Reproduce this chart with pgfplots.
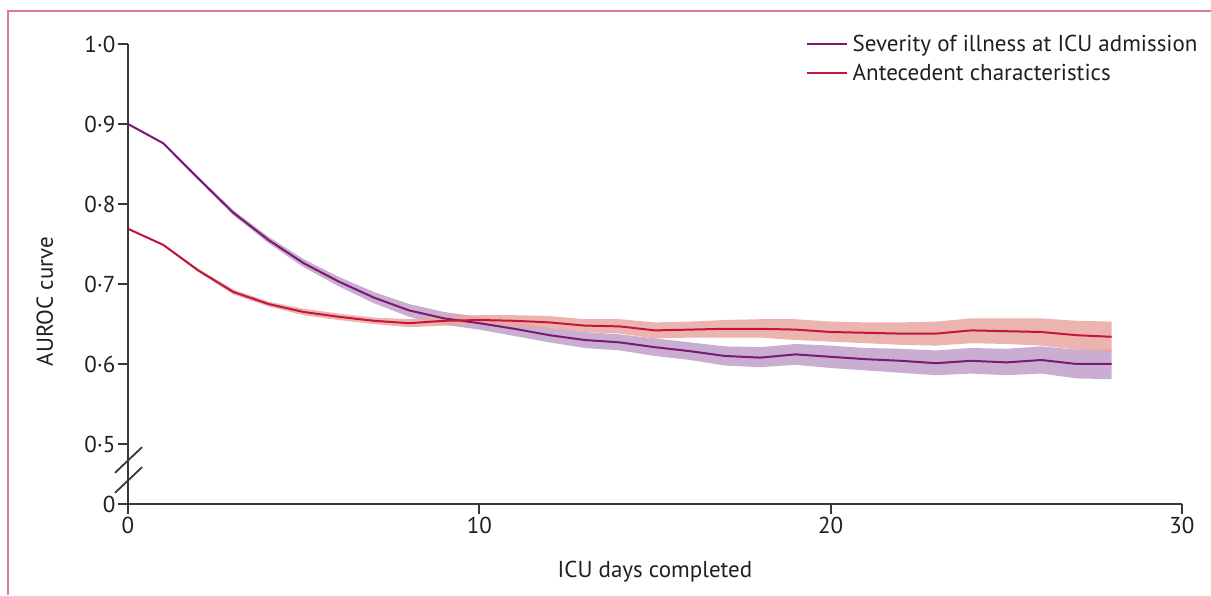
\documentclass[border=0pt]{standalone}
\usepackage{fontspec}
\setmainfont{PT Sans}
\usepackage{pgfplots}
\pgfplotsset{compat=1.18}
\usepackage{pgfplotstable}
\definecolor{sevline}{RGB}{122,26,114}
\definecolor{sevband}{RGB}{196,166,206}
\definecolor{antline}{RGB}{196,22,58}
\definecolor{antband}{RGB}{232,168,160}
\definecolor{axisgray}{RGB}{55,55,55}
\definecolor{textgray}{RGB}{35,31,32}
\definecolor{pinkframe}{RGB}{218,120,158}

\pgfplotstableread{
x y
0 0.900
1 0.876
2 0.832
3 0.789
4 0.755
5 0.726
6 0.703
7 0.683
8 0.667
9 0.657
10 0.651
11 0.644
12 0.636
13 0.630
14 0.627
15 0.621
16 0.616
17 0.610
18 0.608
19 0.612
20 0.609
21 0.606
22 0.604
23 0.601
24 0.604
25 0.602
26 0.605
27 0.600
28 0.600
}\severity

\pgfplotstableread{
x y
0 0.769
1 0.749
2 0.717
3 0.690
4 0.675
5 0.665
6 0.659
7 0.654
8 0.651
9 0.654
10 0.655
11 0.654
12 0.652
13 0.648
14 0.647
15 0.642
16 0.643
17 0.644
18 0.644
19 0.643
20 0.640
21 0.639
22 0.638
23 0.638
24 0.642
25 0.641
26 0.640
27 0.636
28 0.634
}\antecedent

\begin{document}
\begin{tikzpicture}
\useasboundingbox (0,0) rectangle (1211pt,595pt);
\fill[white] (0,0) rectangle (1211pt,595pt);
\draw[pinkframe, line width=1.3pt] (8pt,0pt) -- (8pt,584pt) -- (1211pt,584pt);
\begin{axis}[
  at={(128pt,91pt)}, anchor=south west,
  scale only axis, width=1054pt, height=460pt,
  xmin=0, xmax=30, ymin=0.425, ymax=1.0,
  axis x line*=bottom, axis y line*=left,
  axis line style={-, line width=1.8pt, color=axisgray},
  y axis line style={draw=none},
  tick align=outside,
  major tick length=10pt,
  tick style={line width=1.8pt, color=axisgray},
  xtick={0,10,20,30}, xticklabels={0,10,20,30},
  ytick={0.425,0.5,0.6,0.7,0.8,0.9,1.0},
  yticklabels={0,0·5,0·6,0·7,0·8,0·9,1·0},
  ticklabel style={font=\fontsize{23}{27}\selectfont, text=textgray},
  yticklabel style={xshift=1pt},
  xlabel={ICU days completed},
  ylabel={AUROC curve},
  label style={font=\fontsize{23}{27}\selectfont, text=textgray},
  xlabel style={at={(axis description cs:0.5,-0.148)}, anchor=center},
  ylabel style={at={(axis description cs:-0.079,0.44)}, anchor=center},
  clip=false,
  legend cell align=left,
  legend style={draw=none, fill=none, at={(axis description cs:0.640,1.029)}, anchor=north west,
    font=\fontsize{23}{27}\selectfont, text=textgray, row sep=7pt,
    nodes={inner sep=2pt}},
  legend image code/.code={\draw[#1, line width=2pt] (0pt,0pt) -- (40pt,0pt); \path (43pt,0pt);},
]
% confidence bands (lower bound forward, upper bound backward)
\addplot[fill=sevband, draw=none, fill opacity=0.9, forget plot] coordinates {
(0,0.899) (1,0.875) (2,0.830) (3,0.786) (4,0.751) (5,0.721) (6,0.697) (7,0.676) (8,0.659) (9,0.649)
(10,0.643) (11,0.635) (12,0.627) (13,0.620) (14,0.617) (15,0.610) (16,0.605) (17,0.598) (18,0.596) (19,0.599)
(20,0.595) (21,0.592) (22,0.589) (23,0.586) (24,0.588) (25,0.586) (26,0.588) (27,0.582) (28,0.581)
(28,0.619) (27,0.618) (26,0.622) (25,0.619) (24,0.620) (23,0.617) (22,0.619) (21,0.620) (20,0.623) (19,0.625)
(18,0.621) (17,0.622) (16,0.627) (15,0.632) (14,0.637) (13,0.640) (12,0.645) (11,0.653) (10,0.659) (9,0.665)
(8,0.675) (7,0.690) (6,0.709) (5,0.731) (4,0.759) (3,0.792) (2,0.834) (1,0.877) (0,0.901)
} -- cycle;
\addplot[fill=antband, draw=none, fill opacity=0.85, forget plot] coordinates {
(0,0.768) (1,0.748) (2,0.715) (3,0.687) (4,0.672) (5,0.661) (6,0.655) (7,0.650) (8,0.646) (9,0.648)
(10,0.649) (11,0.647) (12,0.644) (13,0.640) (14,0.638) (15,0.632) (16,0.633) (17,0.633) (18,0.633) (19,0.630)
(20,0.628) (21,0.626) (22,0.624) (23,0.623) (24,0.626) (25,0.625) (26,0.623) (27,0.618) (28,0.615)
(28,0.653) (27,0.654) (26,0.657) (25,0.657) (24,0.657) (23,0.653) (22,0.652) (21,0.652) (20,0.653) (19,0.656)
(18,0.656) (17,0.655) (16,0.653) (15,0.652) (14,0.656) (13,0.656) (12,0.660) (11,0.661) (10,0.661) (9,0.660)
(8,0.656) (7,0.658) (6,0.663) (5,0.669) (4,0.678) (3,0.693) (2,0.719) (1,0.750) (0,0.770)
} -- cycle;
\addplot[sevline, line width=2pt] table[x=x,y=y] {\severity};
\addlegendentry{Severity of illness at ICU admission}
\addplot[antline, line width=2pt] table[x=x,y=y] {\antecedent};
\addlegendentry{Antecedent characteristics}
% broken y axis
\draw[axisgray, line width=1.8pt] (axis cs:0,1.0) -- (axis cs:0,0.459);
\draw[axisgray, line width=1.8pt] (axis cs:0,0.476) -- (axis cs:0,0.425);
\draw[axisgray, line width=1.8pt] (axis cs:-0.37,0.464) -- (axis cs:0.40,0.496);
\draw[axisgray, line width=1.8pt] (axis cs:-0.37,0.439) -- (axis cs:0.40,0.471);
\end{axis}
\end{tikzpicture}
\end{document}
